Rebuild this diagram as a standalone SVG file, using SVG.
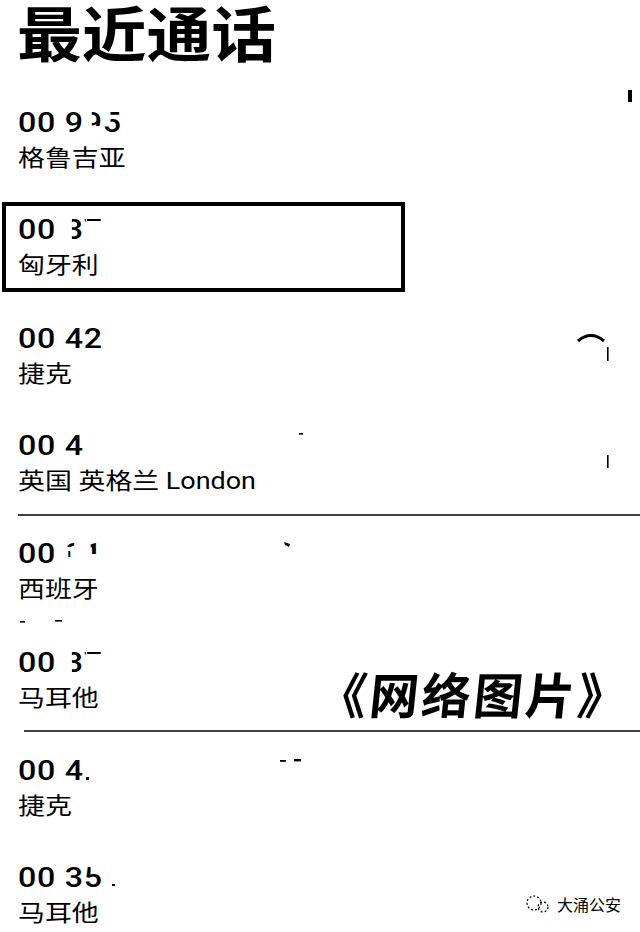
<svg xmlns="http://www.w3.org/2000/svg" width="640" height="932" viewBox="0 0 640 932">
<style>
.title{font-family:"Noto Sans CJK SC",sans-serif;font-weight:700;font-size:60px;fill:#000}
.num{font-family:Roboto,"Liberation Sans",sans-serif;font-weight:500;font-size:27.5px;letter-spacing:0.6px;fill:#000}
.ctry{font-family:Roboto,"Noto Sans CJK SC",sans-serif;font-size:23px;fill:#000}
.mark{fill:#000}
.div{stroke:#000;stroke-width:1.4}
.wm{font-family:"Noto Sans CJK SC",sans-serif;font-size:16px;fill:#000}
.cap{font-family:"Noto Sans CJK SC",sans-serif;font-weight:700;font-size:49px;letter-spacing:3px;fill:#000}
</style>
<defs>
<clipPath id="c1"><rect x="0" y="100" width="73" height="40"/><rect x="81" y="105" width="10" height="21"/><rect x="97" y="100" width="20" height="40"/><rect x="90" y="100" width="7" height="12"/><rect x="90" y="124" width="7" height="15"/></clipPath>
<clipPath id="c2"><rect x="0" y="200" width="57" height="50"/><rect x="64" y="200" width="12" height="50"/><rect x="77" y="214" width="14" height="7"/></clipPath>
<clipPath id="c5"><rect x="0" y="530" width="56" height="40"/><rect x="59" y="542" width="7" height="5"/><rect x="61" y="551" width="4" height="6"/><rect x="80" y="541" width="9" height="13"/></clipPath>
<clipPath id="c6"><rect x="0" y="633" width="57" height="50"/><rect x="64" y="633" width="12" height="50"/><rect x="77" y="647" width="14" height="7"/></clipPath>
<clipPath id="c8"><rect x="0" y="855" width="74" height="40"/><rect x="74" y="871" width="17" height="20"/><rect x="74" y="855" width="6" height="16"/></clipPath>
</defs>
<rect width="640" height="932" fill="#fff"/>
<text class="title" x="17" y="57" transform="translate(-1.4 0) scale(1.08 1)">最近通话</text>

<g id="row1">
<g transform="translate(-3 0) scale(1.17 1)">
<text class="num" x="18" y="132" clip-path="url(#c1)">00 995</text>
<text class="ctry" x="18" y="166">格鲁吉亚</text>
</g>
<rect class="mark" x="628" y="90" width="4" height="12"/>
</g>
<g id="row2">
<rect x="4" y="204" width="399" height="86" fill="none" stroke="#000" stroke-width="4"/>
<g transform="translate(-3 0) scale(1.17 1)">
<text class="num" x="18" y="239" clip-path="url(#c2)">00 37</text>
<text class="ctry" x="18" y="273">匈牙利</text>
</g>
</g>
<g id="row3">
<g transform="translate(-3 0) scale(1.17 1)">
<text class="num" x="18" y="348">00 42</text>
<text class="ctry" x="18" y="382">捷克</text>
</g>
<path d="M578 341 Q591 330 604 341" fill="none" stroke="#000" stroke-width="3"/>
<rect class="mark" x="607" y="347" width="1.6" height="14"/>
</g>
<g id="row4">
<g transform="translate(-3 0) scale(1.17 1)">
<text class="num" x="18" y="455">00 4</text>
<text class="ctry" x="18" y="489">英国 英格兰 London</text>
</g>
<rect class="mark" x="299" y="433" width="4" height="1.6"/>
<rect class="mark" x="607" y="455" width="1.6" height="13"/>
</g>
<g id="row5">
<g transform="translate(-3 0) scale(1.17 1)">
<text class="num" x="18" y="563" clip-path="url(#c5)">00 01</text>
<text class="ctry" x="18" y="597">西班牙</text>
</g>
<path d="M284 542 L290 544 L289 547 L285 545 Z" class="mark"/>
<rect class="mark" x="20" y="621" width="5" height="1.6"/>
<rect class="mark" x="55" y="620" width="7" height="1.6"/>
</g>
<g id="row6">
<g transform="translate(-3 0) scale(1.17 1)">
<text class="num" x="18" y="672" clip-path="url(#c6)">00 37</text>
<text class="ctry" x="18" y="706">马耳他</text>
</g>
</g>
<g id="row7">
<g transform="translate(-3 0) scale(1.17 1)">
<text class="num" x="18" y="780">00 4</text>
<text class="ctry" x="18" y="814">捷克</text>
</g>
<rect class="mark" x="86" y="777" width="3" height="3"/>
<rect class="mark" x="280" y="760" width="6" height="1.8"/>
<rect class="mark" x="294" y="759" width="7" height="2.4"/>
</g>
<g id="row8">
<g transform="translate(-3 0) scale(1.17 1)">
<text class="num" x="18" y="887" clip-path="url(#c8)">00 35</text>
<text class="ctry" x="18" y="921">马耳他</text>
</g>
<rect class="mark" x="112" y="884" width="3" height="2"/>
</g>

<g id="connectors">
<line class="div" x1="18" y1="515" x2="640" y2="515"/>
<line class="div" x1="24" y1="731" x2="640" y2="731"/>
</g>

<g id="caption">
<text class="cap" x="316" y="714" transform="skewX(-6) translate(75 0)">《网络图片》</text>
</g>
<g id="watermark">
<circle cx="534" cy="903" r="7" fill="none" stroke="#000" stroke-width="1.2" stroke-dasharray="2 2"/>
<circle cx="543" cy="907" r="5" fill="none" stroke="#000" stroke-width="1.2" stroke-dasharray="2 2"/>
<text class="wm" x="557" y="911">大涌公安</text>
</g>
</svg>
